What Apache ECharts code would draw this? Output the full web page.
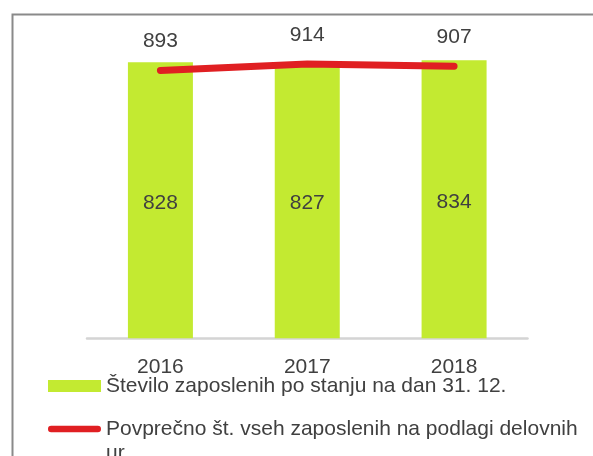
<!DOCTYPE html>
<html><head><meta charset="utf-8">
<script src="https://cdn.jsdelivr.net/npm/echarts@6/dist/echarts.min.js"></script>
<style>html,body{margin:0;padding:0;background:#fff}#c{width:593px;height:456px}</style>
</head><body><div id="c"></div>
<script>
const years = ['2016', '2017', '2018'];
const employeesEndOfYear = [828, 827, 834];
const avgEmployeesHours = [893, 914, 907];
const seriesNames = ['Število zaposlenih po stanju na dan 31. 12.', 'Povprečno št. vseh zaposlenih na podlagi delovnih ur.'];

const font = '"Liberation Sans", Arial, sans-serif';
const txt = '#404040';
const chart = echarts.init(document.getElementById('c'), null, {renderer: 'canvas'});
chart.setOption({
  animation: false,
  backgroundColor: '#fff',
  textStyle: {fontFamily: font},
  graphic: [{
    type: 'rect', left: 10, top: 12, z: -1,
    shape: {x: 0, y: 0, width: 700, height: 600},
    style: {fill: 'none', stroke: '#8a8a8a', lineWidth: 2}
  }],
  grid: {left: 87, right: 65.5, top: 38.3, bottom: 117.7, containLabel: false},
  xAxis: {
    type: 'category', data: years,
    axisLine: {lineStyle: {color: '#d4d4d4', width: 2.5}},
    axisTick: {show: false},
    axisLabel: {color: txt, fontSize: 21, fontFamily: font, margin: 18}
  },
  yAxis: [
    {type: 'value', min: 0, max: 900, show: false, splitLine: {show: false}},
    {type: 'value', min: 0, max: 1000, show: false, splitLine: {show: false}}
  ],
  legend: {
    orient: 'vertical', left: 48, top: 374, padding: 0, height: 400, width: 560,
    itemWidth: 53, itemHeight: 12, itemGap: -5,
    formatter: function (name) {
      return name === seriesNames[1] ? '\n' + name.replace(' ur.', '\nur.') : name;
    },
    textStyle: {color: txt, fontSize: 21, fontFamily: font, lineHeight: 24},
    data: [
      {name: seriesNames[0], icon: 'rect'},
      {name: seriesNames[1], icon: 'path://M3.5,0 L54.5,0 A3.5,3.5 0 0 1 54.5,7 L3.5,7 A3.5,3.5 0 0 1 3.5,0 Z',
       itemStyle: {color: '#e01f22'},
       textStyle: {lineHeight: 24}}
    ]
  },
  series: [
    {
      name: seriesNames[0], type: 'bar', data: employeesEndOfYear, yAxisIndex: 0,
      barWidth: 65,
      itemStyle: {color: '#c3ea31'},
      label: {show: true, position: 'inside', color: txt, fontSize: 21, fontFamily: font, offset: [0, 3]}
    },
    {
      name: seriesNames[1], type: 'line', data: avgEmployeesHours, yAxisIndex: 1,
      symbol: 'circle', symbolSize: 1, showSymbol: true,
      itemStyle: {color: '#e01f22'},
      lineStyle: {color: '#e01f22', width: 7, cap: 'round', join: 'round'},
      label: {show: true, position: 'top', distance: 18, color: txt, fontSize: 21, fontFamily: font}
    }
  ]
});
</script></body></html>
